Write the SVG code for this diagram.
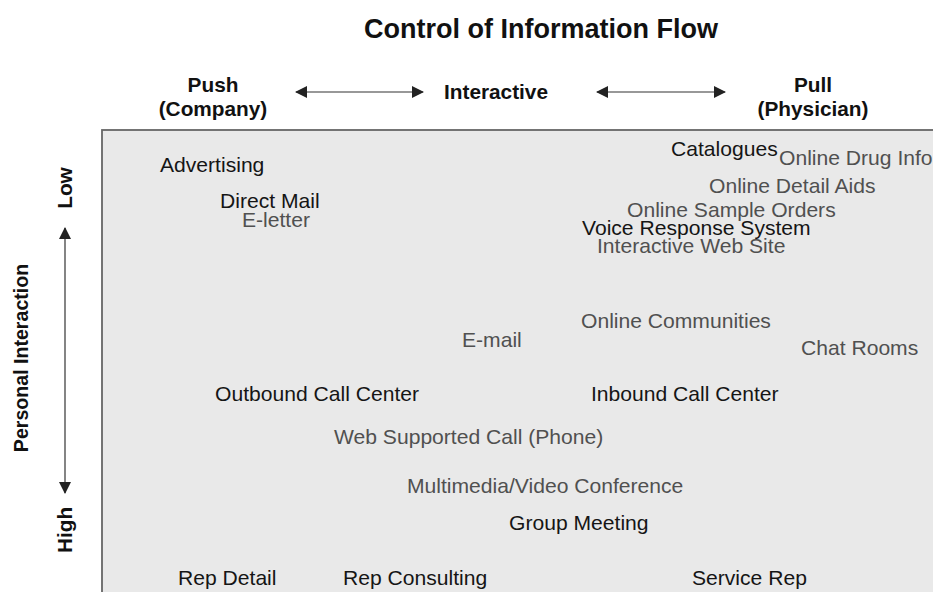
<svg xmlns="http://www.w3.org/2000/svg" width="933" height="592" viewBox="0 0 933 592">
<defs>
<style>
text{font-family:"Liberation Sans",Arial,Helvetica,sans-serif;}
.hd{font-weight:bold;font-size:20.8px;fill:#111;text-anchor:middle;}
.pi{font-weight:bold;font-size:19.6px;fill:#111;text-anchor:middle;}
.ttl{font-weight:bold;font-size:27px;fill:#111;text-anchor:middle;}
.b{font-size:21.1px;fill:#151515;}
.g{font-size:21.1px;fill:#505050;}
.ax{stroke:#333;stroke-width:1.2;fill:none;}
</style>
<marker id="ah" viewBox="0 0 12 12" refX="11" refY="6" markerWidth="12" markerHeight="12" markerUnits="userSpaceOnUse" orient="auto-start-reverse">
<path d="M0,0 L12,6 L0,12 Z" fill="#222"/>
</marker>
</defs>
<rect width="933" height="592" fill="#ffffff"/>
<rect id="panel" x="102" y="130" width="900" height="520" fill="#e9e9e9" stroke="#666666" stroke-width="1.8"/>
<text class="ttl" x="541" y="38">Control of Information Flow</text>
<g id="push"><text class="hd" x="213" y="92">Push</text><text class="hd" x="213" y="116">(Company)</text></g>
<g id="interactive"><text class="hd" x="496" y="99">Interactive</text></g>
<g id="pull"><text class="hd" x="813" y="92">Pull</text><text class="hd" x="813" y="116">(Physician)</text></g>
<g id="low"><text class="hd" transform="translate(72,188) rotate(-90)">Low</text></g>
<g id="high"><text class="hd" transform="translate(72,530) rotate(-90)">High</text></g>
<g id="personal"><text class="pi" transform="translate(28,358) rotate(-90)">Personal Interaction</text></g>
<g id="connectors">
<line class="ax" x1="296" y1="92" x2="423" y2="92" marker-start="url(#ah)" marker-end="url(#ah)"/>
<line class="ax" x1="597" y1="92" x2="725" y2="92" marker-start="url(#ah)" marker-end="url(#ah)"/>
<line class="ax" x1="65" y1="228" x2="65" y2="493" marker-start="url(#ah)" marker-end="url(#ah)"/>
</g>
<g id="advertising"><text class="b" x="160" y="172">Advertising</text></g>
<g id="direct-mail"><text class="b" x="220" y="208">Direct Mail</text></g>
<g id="e-letter"><text class="g" x="242" y="227">E-letter</text></g>
<g id="catalogues"><text class="b" x="671" y="156">Catalogues</text></g>
<g id="online-drug-info"><text class="g" x="779" y="165">Online Drug Info</text></g>
<g id="online-detail-aids"><text class="g" x="709" y="193">Online Detail Aids</text></g>
<g id="online-sample-orders"><text class="g" x="627" y="217">Online Sample Orders</text></g>
<g id="voice-response"><text class="b" x="582" y="235">Voice Response System</text></g>
<g id="interactive-web"><text class="g" x="597" y="253">Interactive Web Site</text></g>
<g id="online-communities"><text class="g" x="581" y="328">Online Communities</text></g>
<g id="e-mail"><text class="g" x="462" y="347">E-mail</text></g>
<g id="chat-rooms"><text class="g" x="801" y="355">Chat Rooms</text></g>
<g id="outbound"><text class="b" x="215" y="401">Outbound Call Center</text></g>
<g id="inbound"><text class="b" x="591" y="401">Inbound Call Center</text></g>
<g id="web-call"><text class="g" x="334" y="444">Web Supported Call (Phone)</text></g>
<g id="multimedia"><text class="g" x="407" y="493">Multimedia/Video Conference</text></g>
<g id="group-meeting"><text class="b" x="509" y="530">Group Meeting</text></g>
<g id="rep-detail"><text class="b" x="178" y="585">Rep Detail</text></g>
<g id="rep-consulting"><text class="b" x="343" y="585">Rep Consulting</text></g>
<g id="service-rep"><text class="b" x="692" y="585">Service Rep</text></g>
</svg>
